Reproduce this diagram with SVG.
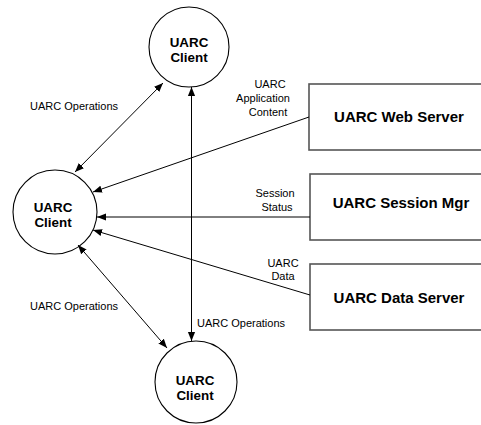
<svg xmlns="http://www.w3.org/2000/svg" width="481" height="425" viewBox="0 0 481 425">
<style>
.circ{fill:#fff;stroke:#000;stroke-width:1.1}
.box{fill:#fff;stroke:#555;stroke-width:1.6}
.nl{font-family:"Liberation Sans",Arial,sans-serif;font-weight:bold;font-size:15px;text-anchor:middle;fill:#000}
.cl{font-size:13.4px}
.el{font-family:"Liberation Sans",Arial,sans-serif;font-size:11px;fill:#000}
.c{text-anchor:middle}
.con line{stroke:#000;stroke-width:1;fill:none}
</style>
<defs>
<marker id="ah" viewBox="0 0 10 10" refX="10" refY="5" markerWidth="9" markerHeight="9" markerUnits="userSpaceOnUse" orient="auto-start-reverse">
<path d="M0,1 L10,5 L0,9 Z" fill="#000"/>
</marker>
</defs>
<rect width="481" height="425" fill="#fff"/>
<g id="top-client">
<circle class="circ" cx="189" cy="47" r="40"/>
<text class="nl cl" x="189" y="46.5">UARC</text>
<text class="nl cl" x="189" y="61.5">Client</text>
</g>
<g id="left-client">
<circle class="circ" cx="55" cy="212" r="42"/>
<text class="nl cl" x="53" y="212">UARC</text>
<text class="nl cl" x="53" y="227">Client</text>
</g>
<g id="bottom-client">
<circle class="circ" cx="196" cy="382" r="41"/>
<text class="nl cl" x="195" y="384.5">UARC</text>
<text class="nl cl" x="195" y="399.5">Client</text>
</g>
<g id="web-server">
<rect class="box" x="309" y="84" width="190" height="66"/>
<text class="nl" x="399" y="122">UARC Web Server</text>
</g>
<g id="session-mgr">
<rect class="box" x="310" y="174" width="190" height="66"/>
<text class="nl" x="401" y="208">UARC Session Mgr</text>
</g>
<g id="data-server">
<rect class="box" x="310" y="264" width="190" height="66"/>
<text class="nl" x="399" y="303">UARC Data Server</text>
</g>
<g id="connectors" class="con">
<line x1="75" y1="172" x2="163" y2="83" marker-start="url(#ah)" marker-end="url(#ah)"/>
<line x1="78" y1="245" x2="167" y2="348" marker-start="url(#ah)" marker-end="url(#ah)"/>
<line x1="191.5" y1="87" x2="191.5" y2="341" marker-start="url(#ah)" marker-end="url(#ah)"/>
<line x1="309" y1="117" x2="93" y2="192" marker-end="url(#ah)"/>
<line x1="310" y1="217" x2="97" y2="217" marker-end="url(#ah)"/>
<line x1="310" y1="295" x2="93" y2="230" marker-end="url(#ah)"/>
</g>
<g id="labels">
<text class="el" x="30" y="110">UARC Operations</text>
<text class="el" x="30" y="310">UARC Operations</text>
<text class="el" x="197" y="327">UARC Operations</text>
<text class="el c" x="270" y="88">UARC</text>
<text class="el c" x="263" y="102">Application</text>
<text class="el c" x="268" y="116">Content</text>
<text class="el c" x="275" y="197">Session</text>
<text class="el c" x="277" y="211">Status</text>
<text class="el c" x="283" y="267">UARC</text>
<text class="el c" x="283" y="280">Data</text>
</g>
</svg>
